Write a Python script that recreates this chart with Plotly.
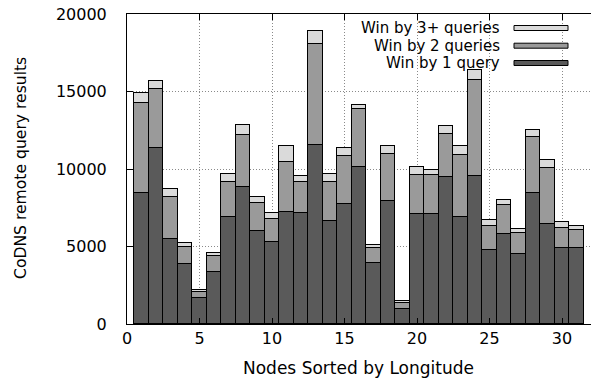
import plotly.graph_objects as go

# Node index (sorted by longitude) and per-node remote query wins, stacked by margin
nodes = list(range(1, 32))
win_by_1 = [8470, 11330, 5500, 3850, 1680, 3350, 6900, 8860, 6020, 5290,
            7230, 7140, 11570, 6650, 7740, 10130, 3940, 7960, 960, 7080,
            7100, 9480, 6920, 9570, 4750, 5810, 4520, 8450, 6430, 4900, 4880]
win_by_2 = [5790, 3850, 2670, 1120, 380, 1040, 2260, 3310, 1760, 1510,
            3240, 2020, 6490, 2510, 3080, 3720, 940, 3010, 390, 2510,
            2490, 2780, 3980, 6150, 1590, 1850, 1330, 3610, 3610, 1320, 1160]
win_by_3 = [620, 480, 520, 230, 110, 210, 500, 650, 410, 360,
            1010, 370, 840, 540, 560, 300, 240, 530, 110, 540,
            350, 540, 580, 670, 350, 320, 300, 460, 520, 340, 260]

series_names = ["Win by 1 query", "Win by 2 queries", "Win by 3+ queries"]
series_colors = ["#5a5a5a", "#9a9a9a", "#dadada"]
x_ticks = [0, 5, 10, 15, 20, 25, 30]
y_ticks = [0, 5000, 10000, 15000, 20000]

FONT = "DejaVu Sans"
W, H = 591, 381
M_L, M_R, M_T, M_B = 127, 0, 14, 57
plot_w = W - M_L - M_R
plot_h = H - M_T - M_B

fig = go.Figure()
for name, vals, col in zip(series_names, [win_by_1, win_by_2, win_by_3], series_colors):
    fig.add_trace(go.Bar(
        x=nodes, y=vals, name=name, width=1.0,
        marker=dict(color=col, line=dict(color="black", width=1)),
        showlegend=False,
    ))


def px_x(p):
    return (p - M_L) / plot_w


def px_y(p):
    return (H - M_B - p) / plot_h


# Key in the upper right: right-justified labels with swatches to their right
key_rows = [(series_names[2], series_colors[2], 28.0),
            (series_names[1], series_colors[1], 45.7),
            (series_names[0], series_colors[0], 63.0)]
annotations = []
shapes = []
for label, col, yc in key_rows:
    annotations.append(dict(
        text=label, xref="paper", yref="paper", x=px_x(502), y=px_y(yc),
        xanchor="right", yanchor="middle", showarrow=False,
        font=dict(family=FONT, size=15, color="black"),
    ))
    shapes.append(dict(
        type="rect", xref="paper", yref="paper",
        x0=px_x(514), x1=px_x(568), y0=px_y(yc + 2.5), y1=px_y(yc - 2.5),
        fillcolor=col, line=dict(color="black", width=1),
    ))

# Axis titles
annotations.append(dict(
    text="Nodes Sorted by Longitude", xref="paper", yref="paper",
    x=px_x(358.5), y=px_y(368), xanchor="center", yanchor="middle",
    showarrow=False, font=dict(family=FONT, size=17, color="black"),
))
annotations.append(dict(
    text="CoDNS remote query results", xref="paper", yref="paper",
    x=px_x(20.5), y=px_y(168.5), xanchor="center", yanchor="middle",
    textangle=-90, showarrow=False, font=dict(family=FONT, size=15.6, color="black"),
))

grid = dict(showgrid=True, gridcolor="#8a8a8a", gridwidth=1, griddash="1px,2px")

fig.update_layout(
    width=W, height=H,
    margin=dict(l=M_L, r=M_R, t=M_T, b=M_B, pad=0),
    paper_bgcolor="white", plot_bgcolor="white",
    barmode="stack", bargap=0,
    font=dict(family=FONT, size=16, color="black"),
    annotations=annotations, shapes=shapes,
    xaxis=dict(
        range=[0, 32], tickvals=x_ticks, ticktext=[str(v) for v in x_ticks],
        ticks="inside", ticklen=6, tickwidth=1, tickcolor="black",
        showline=True, linecolor="black", linewidth=1, mirror="ticks",
        zeroline=False, tickfont=dict(family=FONT, size=16), **grid,
    ),
    yaxis=dict(
        range=[0, 20000], tickvals=y_ticks, ticktext=[str(v) for v in y_ticks],
        ticks="inside", ticklen=6, tickwidth=1, tickcolor="black",
        ticklabelstandoff=16,
        showline=True, linecolor="black", linewidth=1,
        zeroline=False, tickfont=dict(family=FONT, size=16), **grid,
    ),
)

fig.write_html("out.html", config={"displayModeBar": False})
